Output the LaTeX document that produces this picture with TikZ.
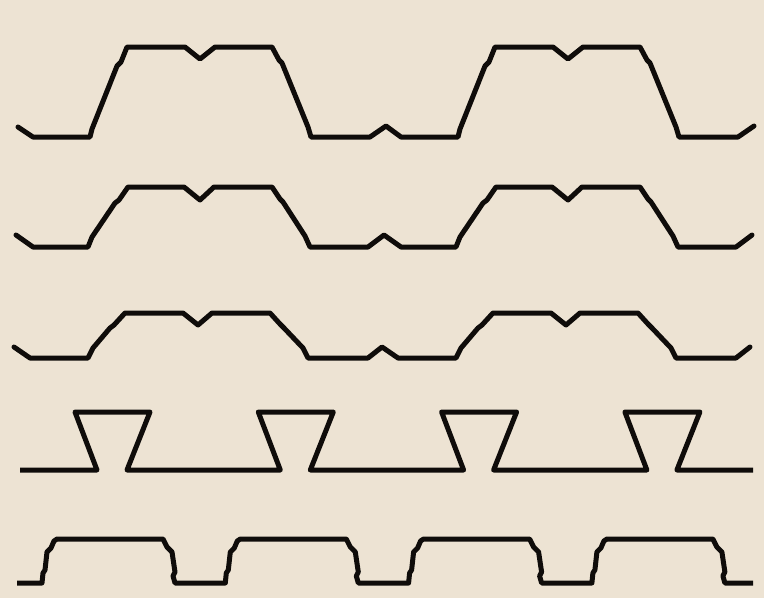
\documentclass[tikz,border=0pt]{standalone}
\definecolor{bg}{RGB}{237,227,211}
\definecolor{ink}{RGB}{15,12,10}
\begin{document}
\begin{tikzpicture}[x=1pt,y=-1pt,
  profile/.style={draw=ink,line width=5pt,line join=round,line cap=round}]
\fill[bg] (0,0) rectangle (764,598);
\useasboundingbox (0,0) rectangle (764,598);
% Row 1
\draw[profile] (18,127)
  foreach \o in {0,368} {
  -- ({33+\o},137) -- ({90+\o},137) -- ({92+\o},129) -- ({117+\o},66) -- ({121+\o},62) -- ({127+\o},47)
  -- ({185+\o},47) -- ({200+\o},59) -- ({215+\o},47) -- ({272+\o},47)
  -- ({279+\o},60) -- ({282+\o},63) -- ({308+\o},127) -- ({311+\o},137)
  -- ({370+\o},137) -- ({386+\o},126) };
% Row 2
\draw[profile] (16,235)
  foreach \o in {0,368} {
  -- ({33+\o},247) -- ({88+\o},247) -- ({92+\o},237) -- ({115+\o},203) -- ({119+\o},200) -- ({128+\o},187)
  -- ({184+\o},187) -- ({200+\o},200) -- ({214+\o},187) -- ({272+\o},187)
  -- ({280+\o},199) -- ({283+\o},202) -- ({305+\o},236) -- ({310+\o},247)
  -- ({368+\o},247) -- ({384+\o},235) };
% Row 3
\draw[profile] (14,347)
  foreach \o in {0,368} {
  -- ({30+\o},358) -- ({88+\o},358) -- ({93+\o},348) -- ({110+\o},328) -- ({114+\o},325) -- ({125+\o},313)
  -- ({183+\o},313) -- ({198+\o},325) -- ({212+\o},313) -- ({270+\o},313)
  -- ({280+\o},324) -- ({284+\o},328) -- ({303+\o},348) -- ({308+\o},358)
  -- ({368+\o},358) -- ({382+\o},347) };
% Row 4
\draw[profile,line cap=butt] (20,470)
  foreach \k [evaluate=\k as \o using 183.3*\k] in {0,...,3} {
  -- ({97+\o},470) -- ({75+\o},412) -- ({150+\o},412) -- ({127+\o},470) }
  -- (753,470);
% Row 5
\draw[profile,line cap=butt] (17,583)
  foreach \k [evaluate=\k as \R using 42+183.3*\k] in {0,...,3} {
  -- (\R,583) -- ({\R+1},573) -- ({\R+3},570) -- ({\R+5},552) -- ({\R+9},548)
  -- ({\R+12},541) -- ({\R+15},539) -- ({\R+121},539) -- ({\R+125},547)
  -- ({\R+130},552) -- ({\R+133},572) -- ({\R+131},576) -- ({\R+133},583) }
  -- (753,583);
\end{tikzpicture}
\end{document}
